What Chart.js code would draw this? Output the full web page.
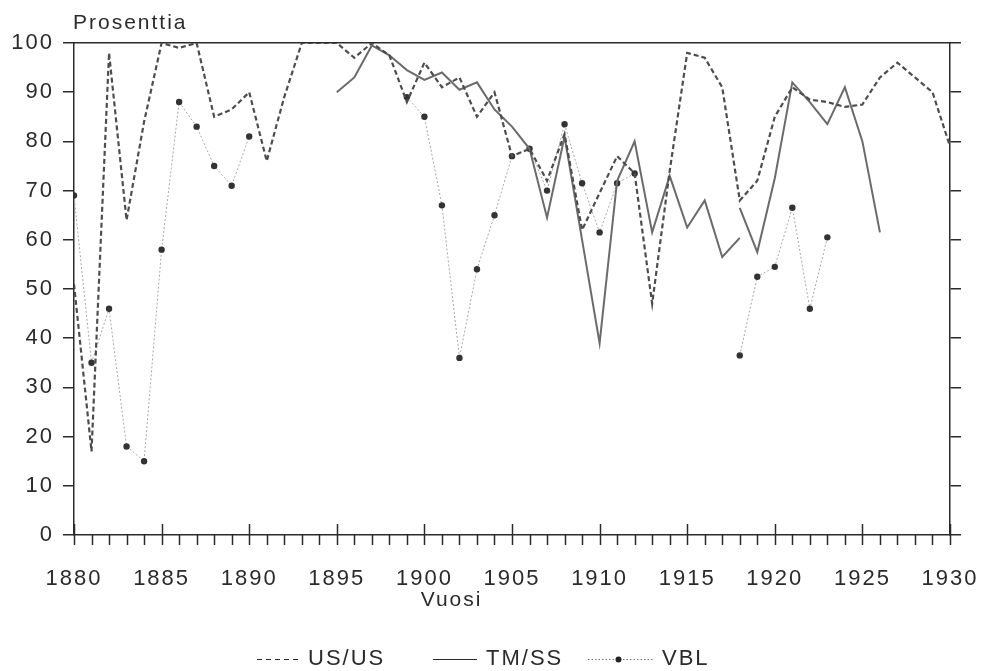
<!DOCTYPE html>
<html>
<head>
<meta charset="utf-8">
<title>Prosenttia</title>
<script src="https://cdn.jsdelivr.net/npm/chart.js@4.4.0/dist/chart.umd.min.js"></script>
<style>
  html, body { margin: 0; padding: 0; background: #fff; }
  #wrap { width: 987px; height: 671px; }
</style>
</head>
<body>
<div id="wrap"><canvas id="chart" width="987" height="671"></canvas></div>
<script>
// values
const usYears = [1880, 1881, 1882, 1883, 1884, 1885, 1886, 1887, 1888, 1889,
                 1890, 1891, 1892, 1893, 1894, 1895, 1896, 1897, 1898, 1899,
                 1900, 1901, 1902, 1903, 1904, 1905, 1906, 1907, 1908, 1909,
                 1910, 1911, 1912, 1913, 1914, 1915, 1916, 1917, 1918, 1919,
                 1920, 1921, 1922, 1923, 1924, 1925, 1926, 1927, 1928, 1929, 1930];
const usValues = [51, 17, 98, 64, 84, 100, 99, 100, 85, 86.5,
                  90, 76, 89, 100, 100, 100, 97, 100, 97.5, 88,
                  96, 91, 93, 85, 90, 77, 78.5, 72, 81.5, 62,
                  69.5, 77, 73.5, 47, 74, 98, 97, 91, 68, 72,
                  85, 91, 88.5, 88, 87, 87.5, 93, 96, 93, 90, 79];

// TM/SS: the line breaks at 1918 and restarts from a higher value
const tmYears = [1895, 1896, 1897, 1898, 1899, 1900, 1901, 1902, 1903, 1904,
                 1905, 1906, 1907, 1908, 1909, 1910, 1911, 1912, 1913, 1914,
                 1915, 1916, 1917, 1918, 1918, 1918, 1919, 1920, 1921, 1922,
                 1923, 1924, 1925, 1926];
const tmValues = [90, 93, 99.5, 97.5, 94.5, 92.5, 94, 90.5, 92, 86.5,
                  83, 78.5, 64.5, 81, 60, 39, 72, 80, 61.5, 73,
                  62.5, 68, 56.5, 60.4, null, 66.5, 57.5, 72.5, 92, 88,
                  83.5, 91, 80, 61.5];

// VBL: null = no observation
const vblYears = [1880, 1881, 1882, 1883, 1884, 1885, 1886, 1887, 1888, 1889,
                  1890, 1891, 1899, 1900, 1901, 1902, 1903, 1904, 1905, 1906,
                  1907, 1908, 1909, 1910, 1911, 1912, 1913, 1918, 1919, 1920,
                  1921, 1922, 1923];
const vblValues = [69, 35, 46, 18, 15, 58, 88, 83, 75, 71,
                   81, null, 89, 85, 67, 36, 54, 65, 77, 78.5,
                   70, 83.5, 71.5, 61.5, 71.5, 73.5, null, 36.5, 52.5, 54.5,
                   66.5, 46, 60.5];

const yearMin = 1880, yearMax = 1930;
const yMin = 0, yMax = 100;

const FONT = "'Liberation Sans', Arial, sans-serif";
const INK = '#2b2b2b';

function toPoints(xs, ys) {
    return xs.map(function (x, i) { return { x: x, y: ys[i] }; });
}

function noPad(s) {
    s.paddingLeft = 0;
    s.paddingRight = 0;
    s.paddingTop = 0;
    s.paddingBottom = 0;
}

const decor = {
    id: 'decor',
    beforeDraw: function (chart) {
        chart.ctx.letterSpacing = '2px';
    },
    afterDraw: function (chart) {
        const ctx = chart.ctx;
        const area = chart.chartArea;
        const xs = chart.scales.x;

        ctx.save();
        ctx.strokeStyle = INK;
        ctx.lineWidth = 1.5;
        // yearly tick marks, every fifth one also pokes up into the plot
        for (let yr = yearMin; yr <= yearMax; yr++) {
            const px = Math.round(xs.getPixelForValue(yr)) + 0.5;
            ctx.beginPath();
            ctx.moveTo(px, area.bottom + 10);
            ctx.lineTo(px, yr % 5 === 0 ? area.bottom - 11 : area.bottom);
            ctx.stroke();
        }

        ctx.fillStyle = INK;
        ctx.letterSpacing = '2px';
        ctx.font = '21px ' + FONT;
        ctx.textAlign = 'left';
        ctx.textBaseline = 'alphabetic';
        ctx.fillText('Prosenttia', area.left - 1, 29);

        ctx.font = '21px ' + FONT;
        ctx.textAlign = 'center';
        ctx.textBaseline = 'middle';
        ctx.fillText('Vuosi', area.left + (area.right - area.left) * 0.431, 600);

        // legend
        const ly = 659;
        const items = [
            { ds: 0, x1: 257, x2: 300, tx: 308, dash: [5, 4] },
            { ds: 1, x1: 433, x2: 477, tx: 486, dash: [] },
            { ds: 2, x1: 588, x2: 653, tx: 662, dash: [1.5, 2] }
        ];
        items.forEach(function (it) {
            const ds = chart.data.datasets[it.ds];
            ctx.save();
            ctx.strokeStyle = it.ds === 2 ? '#777' : INK;
            ctx.lineWidth = 1;
            ctx.setLineDash(it.dash);
            ctx.beginPath();
            ctx.moveTo(it.x1, ly + 0.5);
            ctx.lineTo(it.x2, ly + 0.5);
            ctx.stroke();
            if (it.ds === 2) {
                ctx.setLineDash([]);
                ctx.fillStyle = '#222';
                ctx.beginPath();
                ctx.arc((it.x1 + it.x2) / 2 - 2, ly + 0.5, 3, 0, Math.PI * 2);
                ctx.fill();
            }
            ctx.restore();
            ctx.fillStyle = INK;
            ctx.font = '22px ' + FONT;
            ctx.textAlign = 'left';
            ctx.textBaseline = 'middle';
            ctx.fillText(ds.label, it.tx, ly);
        });
        ctx.restore();
    }
};

const chart = new Chart(document.getElementById('chart'), {
    type: 'line',
    data: {
        datasets: [{
            label: 'US/US',
            data: toPoints(usYears, usValues),
            borderColor: '#4d4d4d',
            borderWidth: 2.2,
            borderDash: [5, 3],
            pointRadius: 0,
            tension: 0
        }, {
            label: 'TM/SS',
            data: toPoints(tmYears, tmValues),
            borderColor: '#6b6b6b',
            borderWidth: 2,
            pointRadius: 0,
            tension: 0
        }, {
            label: 'VBL',
            data: toPoints(vblYears, vblValues),
            borderColor: '#a8a8a8',
            borderWidth: 1,
            borderDash: [2, 2],
            pointRadius: 3.2,
            pointStyle: 'circle',
            pointBackgroundColor: '#333',
            pointBorderColor: '#333',
            pointBorderWidth: 0,
            tension: 0
        }]
    },
    options: {
        responsive: false,
        animation: false,
        layout: { padding: 0 },
        plugins: {
            legend: { display: false },
            tooltip: { enabled: false }
        },
        scales: {
            x: {
                type: 'linear',
                position: 'bottom',
                min: yearMin,
                max: yearMax,
                ticks: {
                    stepSize: 5,
                    padding: 31,
                    maxRotation: 0,
                    autoSkip: false,
                    color: INK,
                    font: { family: FONT, size: 22 },
                    callback: function (v) { return String(v); }
                },
                grid: { display: false, drawTicks: false, tickLength: 0 },
                border: { display: true, color: INK, width: 1.5 },
                afterFit: function (s) { s.height = 136; noPad(s); }
            },
            xTop: {
                type: 'linear',
                position: 'top',
                min: yearMin,
                max: yearMax,
                ticks: { display: false },
                grid: { display: false, drawTicks: false },
                border: { display: true, color: INK, width: 1.5 },
                afterFit: function (s) { s.height = 43; noPad(s); }
            },
            y: {
                position: 'left',
                min: yMin,
                max: yMax,
                ticks: {
                    stepSize: 10,
                    padding: 9,
                    color: INK,
                    font: { family: FONT, size: 22 }
                },
                grid: { drawOnChartArea: false, drawTicks: true, tickLength: 11, color: INK, lineWidth: 1.5 },
                border: { display: true, color: INK, width: 1.5 },
                afterFit: function (s) { s.width = 74; noPad(s); }
            },
            yRight: {
                position: 'right',
                min: yMin,
                max: yMax,
                ticks: { display: false, stepSize: 10 },
                grid: { drawOnChartArea: false, drawTicks: true, tickLength: 11, color: INK, lineWidth: 1.5 },
                border: { display: true, color: INK, width: 1.5 },
                afterFit: function (s) { s.width = 37; noPad(s); }
            }
        }
    },
    plugins: [decor]
});
</script>
</body>
</html>
